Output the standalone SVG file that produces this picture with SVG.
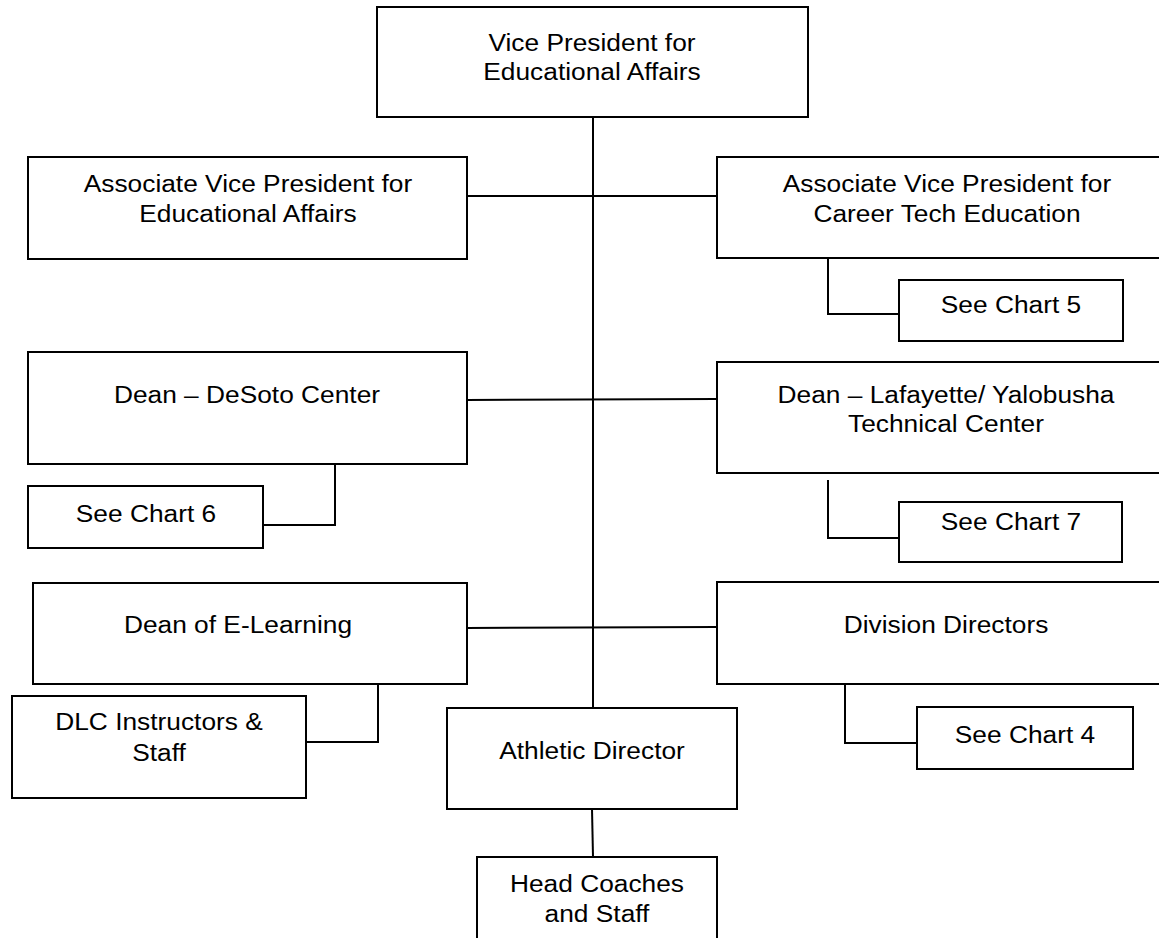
<svg xmlns="http://www.w3.org/2000/svg" width="1159" height="938" viewBox="0 0 1159 938">
  <style>
    .box { fill: #ffffff; stroke: #000000; stroke-width: 2; }
    .lbl { font-family: "Liberation Sans", Arial, sans-serif; font-size: 23.5px; fill: #000000; text-anchor: middle; }
    .link { fill: none; stroke: #000000; stroke-width: 2; }
  </style>

  <!-- connectors -->
  <g id="connectors">
    <line class="link" x1="593" y1="117" x2="593" y2="708"/>
    <line class="link" x1="467" y1="196" x2="717" y2="196"/>
    <line class="link" x1="467" y1="400" x2="717" y2="399"/>
    <line class="link" x1="467" y1="628" x2="717" y2="627"/>
    <polyline class="link" points="828,258 828,314 899,314"/>
    <polyline class="link" points="335,464 335,525 263,525"/>
    <polyline class="link" points="828,480 828,538 899,538"/>
    <polyline class="link" points="378,684 378,742 306,742"/>
    <polyline class="link" points="845,684 845,743 917,743"/>
    <line class="link" x1="592" y1="809" x2="593" y2="857"/>
  </g>

  <g id="vp">
    <rect class="box" x="377" y="7" width="431" height="110"/>
    <text class="lbl" transform="translate(592 0) scale(1.12 1)" y="51">Vice President for</text>
    <text class="lbl" transform="translate(592 0) scale(1.12 1)" y="80">Educational Affairs</text>
  </g>

  <g id="avp-ed">
    <rect class="box" x="28" y="157" width="439" height="102"/>
    <text class="lbl" transform="translate(248 0) scale(1.12 1)" y="192">Associate Vice President for</text>
    <text class="lbl" transform="translate(248 0) scale(1.12 1)" y="222">Educational Affairs</text>
  </g>

  <g id="avp-ct">
    <rect class="box" x="717" y="157" width="460" height="101"/>
    <text class="lbl" transform="translate(947 0) scale(1.12 1)" y="192">Associate Vice President for</text>
    <text class="lbl" transform="translate(947 0) scale(1.12 1)" y="222">Career Tech Education</text>
  </g>

  <g id="chart5">
    <rect class="box" x="899" y="280" width="224" height="61"/>
    <text class="lbl" transform="translate(1011 0) scale(1.12 1)" y="313">See Chart 5</text>
  </g>

  <g id="dean-desoto">
    <rect class="box" x="28" y="352" width="439" height="112"/>
    <text class="lbl" transform="translate(247 0) scale(1.12 1)" y="403">Dean – DeSoto Center</text>
  </g>

  <g id="chart6">
    <rect class="box" x="28" y="486" width="235" height="62"/>
    <text class="lbl" transform="translate(146 0) scale(1.12 1)" y="522">See Chart 6</text>
  </g>

  <g id="dean-lafayette">
    <rect class="box" x="717" y="362" width="460" height="111"/>
    <text class="lbl" transform="translate(946 0) scale(1.12 1)" y="403">Dean – Lafayette/ Yalobusha</text>
    <text class="lbl" transform="translate(946 0) scale(1.12 1)" y="432">Technical Center</text>
  </g>

  <g id="chart7">
    <rect class="box" x="899" y="502" width="223" height="60"/>
    <text class="lbl" transform="translate(1011 0) scale(1.12 1)" y="530">See Chart 7</text>
  </g>

  <g id="dean-elearning">
    <rect class="box" x="33" y="583" width="434" height="101"/>
    <text class="lbl" transform="translate(238 0) scale(1.12 1)" y="633">Dean of E-Learning</text>
  </g>

  <g id="dlc">
    <rect class="box" x="12" y="696" width="294" height="102"/>
    <text class="lbl" transform="translate(159 0) scale(1.12 1)" y="730">DLC Instructors &amp;</text>
    <text class="lbl" transform="translate(159 0) scale(1.12 1)" y="761">Staff</text>
  </g>

  <g id="division-directors">
    <rect class="box" x="717" y="582" width="460" height="102"/>
    <text class="lbl" transform="translate(946 0) scale(1.12 1)" y="633">Division Directors</text>
  </g>

  <g id="chart4">
    <rect class="box" x="917" y="707" width="216" height="62"/>
    <text class="lbl" transform="translate(1025 0) scale(1.12 1)" y="743">See Chart 4</text>
  </g>

  <g id="athletic-director">
    <rect class="box" x="447" y="708" width="290" height="101"/>
    <text class="lbl" transform="translate(592 0) scale(1.12 1)" y="759">Athletic Director</text>
  </g>

  <g id="head-coaches">
    <rect class="box" x="477" y="857" width="240" height="100"/>
    <text class="lbl" transform="translate(597 0) scale(1.12 1)" y="892">Head Coaches</text>
    <text class="lbl" transform="translate(597 0) scale(1.12 1)" y="922">and Staff</text>
  </g>
</svg>
